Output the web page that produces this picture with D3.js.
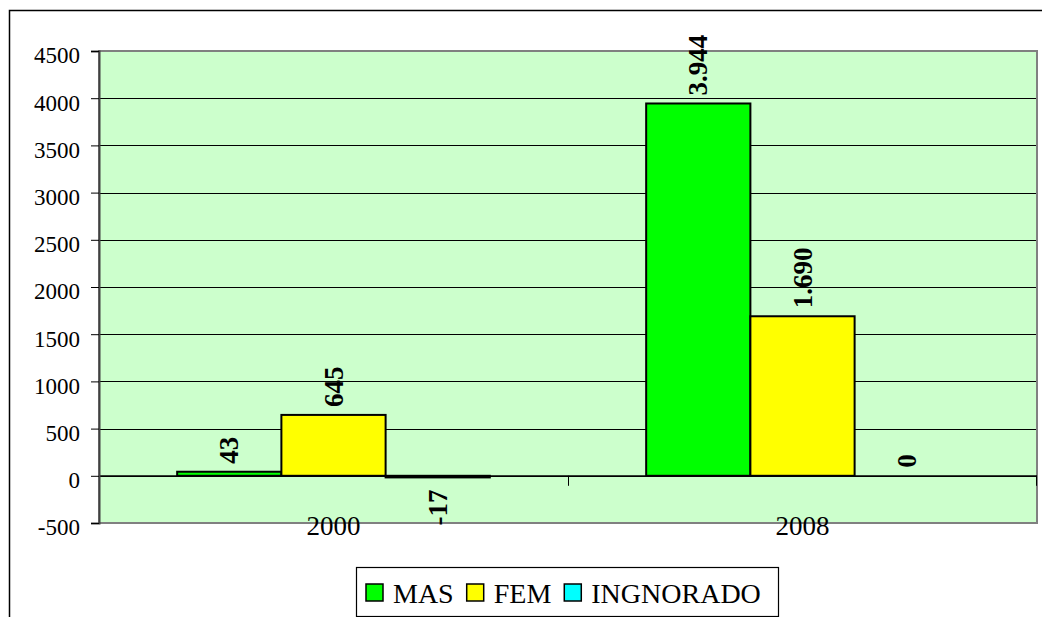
<!DOCTYPE html>
<html><head><meta charset="utf-8">
<script src="https://cdn.jsdelivr.net/npm/d3@7"></script>
<style>
html,body{margin:0;padding:0;background:#fff;}
svg{display:block;}
svg text{font-family:"Liberation Serif","Times New Roman","DejaVu Serif",serif !important;}
</style></head>
<body>
<svg id="c" width="1042" height="617"></svg>
<script>
const categories = ["2000", "2008"];
const seriesNames = ["MAS", "FEM", "INGNORADO"];
const seriesColors = ["#00FF00", "#FFFF00", "#00FFFF"];
const masValues = [43, 3944];
const femValues = [645, 1690];
const ingnoradoValues = [-17, 0];
const yTicks = [-500, 0, 500, 1000, 1500, 2000, 2500, 3000, 3500, 4000, 4500];

const values = [masValues, femValues, ingnoradoValues];
const svg = d3.select("#c");
const plot = {left: 99, right: 1037, top: 51, bottom: 523};

// outer chart border (extends beyond the visible window)
svg.append("rect").attr("x", 9.5).attr("y", 10.5).attr("width", 1100).attr("height", 700)
  .attr("fill", "#fff").attr("stroke", "#000").attr("stroke-width", 1.5);

const y = d3.scaleLinear().domain([-500, 4500]).range([plot.bottom, plot.top]);
const x = d3.scaleBand().domain(categories).range([plot.left, plot.right]).padding(0);
const bw = x.bandwidth();
const barW = bw / 4.5;
const off = (bw - 3 * barW) / 2;
const xs = d3.scaleBand().domain(seriesNames).range([off, bw - off]).padding(0);

// plot background
svg.append("rect").attr("x", plot.left).attr("y", plot.top)
  .attr("width", plot.right - plot.left).attr("height", plot.bottom - plot.top)
  .attr("fill", "#CCFFCC");

// gridlines
svg.append("g").selectAll("line").data(yTicks.filter(t => t !== -500 && t !== 4500)).join("line")
  .attr("x1", plot.left).attr("x2", plot.right)
  .attr("y1", d => Math.round(y(d)) + 0.5).attr("y2", d => Math.round(y(d)) + 0.5)
  .attr("stroke", "#000").attr("stroke-width", 1);

// plot border
svg.append("rect").attr("x", plot.left).attr("y", plot.top)
  .attr("width", plot.right - plot.left).attr("height", plot.bottom - plot.top)
  .attr("fill", "none").attr("stroke", "#808080").attr("stroke-width", 2);

// bars
const barData = [];
categories.forEach((c, i) => seriesNames.forEach((s, j) => barData.push({c, s, j, v: values[j][i]})));
svg.append("g").selectAll("rect").data(barData).join("rect")
  .attr("x", d => x(d.c) + xs(d.s))
  .attr("width", xs.bandwidth())
  .attr("y", d => y(Math.max(0, d.v)))
  .attr("height", d => Math.abs(y(d.v) - y(0)))
  .attr("fill", d => seriesColors[d.j])
  .attr("stroke", "#000").attr("stroke-width", 2);

// zero line and category ticks
svg.append("line").attr("x1", plot.left).attr("x2", plot.right)
  .attr("y1", y(0)).attr("y2", y(0)).attr("stroke", "#000").attr("stroke-width", 1.2);
const catTicks = categories.map(c => x(c)).slice(1).concat([plot.right - 1]);
svg.append("g").selectAll("line").data(catTicks).join("line")
  .attr("x1", d => Math.round(d) + 0.5).attr("x2", d => Math.round(d) + 0.5)
  .attr("y1", y(0)).attr("y2", y(0) + 10).attr("stroke", "#000").attr("stroke-width", 1);

// category labels
svg.append("g").selectAll("text").data(categories).join("text")
  .attr("x", d => x(d) + bw / 2).attr("y", 535)
  .attr("text-anchor", "middle").attr("font-size", 27).attr("fill", "#000")
  .text(d => d);

// y axis
const yAxis = d3.axisLeft(y).tickValues(yTicks).tickSize(8).tickPadding(11).tickFormat(d => String(d));
const ga = svg.append("g").attr("transform", `translate(${plot.left},0)`).call(yAxis);
ga.attr("font-family", null);
ga.select(".domain").attr("stroke", "#404040").attr("stroke-width", 2);
ga.selectAll(".tick line").attr("stroke", "#000").attr("stroke-width", 1);
ga.selectAll(".tick text").attr("font-size", 23).attr("fill", "#000").attr("dy", "0.52em");

// data labels
const fmt = v => String(v).replace(/\B(?=(\d{3})+(?!\d))/g, ".");
svg.append("g").selectAll("text").data(barData).join("text")
  .attr("transform", d => {
    const cx = x(d.c) + xs(d.s) + xs.bandwidth() / 2;
    const yy = d.v >= 0 ? y(d.v) - 8 : y(d.v) + 12;
    return `translate(${cx + 9},${yy}) rotate(-90)`;
  })
  .attr("text-anchor", d => d.v >= 0 ? "start" : "end")
  .attr("font-size", 27).attr("font-weight", "bold").attr("fill", "#000")
  .text(d => fmt(d.v));

// legend
const lg = svg.append("g");
lg.append("rect").attr("x", 356.5).attr("y", 567.5).attr("width", 422).attr("height", 49)
  .attr("fill", "#fff").attr("stroke", "#000").attr("stroke-width", 1.2);
let lx = 366;
seriesNames.forEach((s, j) => {
  lg.append("rect").attr("x", lx).attr("y", 584).attr("width", 17).attr("height", 17)
    .attr("fill", seriesColors[j]).attr("stroke", "#000").attr("stroke-width", 1.5);
  const t = lg.append("text").attr("x", lx + 27).attr("y", 603).attr("font-size", 28).attr("fill", "#000").text(s);
  lx = lx + 27 + t.node().getComputedTextLength() + 13;
});
</script>
</body></html>
